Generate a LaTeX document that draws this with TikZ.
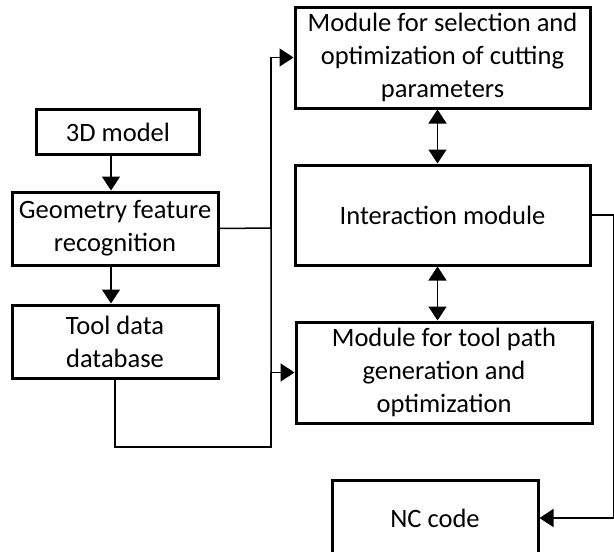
\documentclass[tikz,border=0pt]{standalone}
\usepackage{fontspec}
\setmainfont{Carlito}
\usepackage{tikz}
\usetikzlibrary{arrows.meta}
\tikzset{%
  box/.style = {rectangle,draw,line width=3pt,align=center,
        font=\fontsize{26.5}{33}\selectfont,inner sep=0pt},
  onearrow/.style = {-{Triangle[length=14pt,width=18pt]},line width=1.5pt},
  twoarrow/.style = {{Triangle[length=14pt,width=18pt]}-{Triangle[length=14pt,width=18pt]},line width=1.5pt},
  line/.style = {line width=1.5pt}
}
\begin{document}
\begin{tikzpicture}[x=1pt,y=-1pt]
    \useasboundingbox (0,0) rectangle (614,552);
    % left column
    \node[box,minimum width=163pt,minimum height=45pt] (model) at (118,132) {3D model};
    \node[box,minimum width=206pt,minimum height=73pt] (geom) at (115,228.5) {Geometry feature\\recognition};
    \node[box,minimum width=206pt,minimum height=73pt] (tooldb) at (115,341.5) {Tool data\\database};
    % right column
    \node[box,minimum width=295pt,minimum height=101pt] (select) at (442.5,57.5) {Module for selection and\\optimization of cutting\\parameters};
    \node[box,minimum width=295pt,minimum height=100pt] (inter) at (442.5,215) {Interaction module};
    \node[box,minimum width=296pt,minimum height=101pt] (path) at (444,372.5) {Module for tool path\\generation and\\optimization};
    \node[box,minimum width=206pt,minimum height=76pt] (nc) at (435,518) {NC code};
    \coordinate (bus) at (271,228);
    \coordinate (busend) at (271,447);

    \draw[onearrow] ([xshift=-7pt]model.south) -- ([xshift=-7pt]model.south |- geom.north);
    \draw[onearrow] ([xshift=-4pt]geom.south) -- ([xshift=-4pt]geom.south |- tooldb.north);
    \draw[line] (geom.east) -- (bus) -- (busend);
    \draw[onearrow] (bus) |- (select.west);
    \draw[onearrow] (tooldb.south) |- (busend) |- (path.west);
    \draw[twoarrow] ([xshift=-5pt]select.south) -- ([xshift=-5pt]select.south |- inter.north);
    \draw[twoarrow] ([xshift=-5pt]inter.south) -- ([xshift=-5pt]inter.south |- path.north);
    \draw[onearrow] (inter.east) -- ++(22,0) |- (nc.east);
\end{tikzpicture}
\end{document}
